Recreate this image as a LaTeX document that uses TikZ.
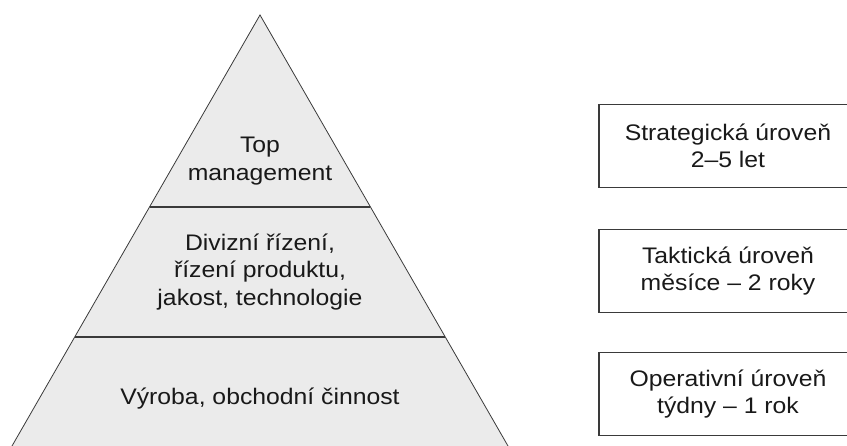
\documentclass[tikz,border=0pt]{standalone}
\usepackage{fontspec}
\setmainfont{Liberation Sans}[FakeStretch=1.1]
\usepackage{xcolor}
\usetikzlibrary{calc,positioning}
\definecolor{pyrfill}{HTML}{EBEBEB}
\definecolor{pyrline}{HTML}{3A3A3A}

\begin{document}
\begin{tikzpicture}[
  x=1pt, y=1pt,
  lvl/.style={align=center, font=\fontsize{22.5}{27.5}\selectfont, text=black!90, inner sep=0pt},
  lvlbox/.style={lvl, draw=pyrline, line width=1.6pt, minimum width=258pt, minimum height=83pt},
  cut/.style={draw=pyrline, line width=1.6pt},
]
\useasboundingbox (0,0) rectangle (847,446);
\clip (0,0) rectangle (847,446);
% === Pyramid ===
\coordinate (apex) at (260,431);
\coordinate (bl) at (12,0);
\coordinate (br) at (508,0);
\filldraw[fill=pyrfill, draw=pyrline, line width=0.8pt] (bl) -- (apex) -- (br);
\draw[cut] ($(apex)!{192/431}!(bl)$) coordinate (c1l) -- ($(apex)!{192/431}!(br)$) coordinate (c1r);
\draw[cut] ($(apex)!{322/431}!(bl)$) coordinate (c2l) -- ($(apex)!{322/431}!(br)$) coordinate (c2r);
\node[lvl] (ptop) at (260,285) {Top\\management};
\node[lvl] (pmid) at (260,174) {Divizní řízení,\\řízení produktu,\\jakost, technologie};
\node[lvl] (pbase) at (260,47) {Výroba, obchodní činnost};
% === Time horizons ===
\node[lvlbox] (strat) at (728,300) {Strategická úroveň\\2–5 let};
\node[lvlbox] (takt) at (728,175) {Taktická úroveň\\měsíce – 2 roky};
\node[lvlbox] (oper) at (728,52) {Operativní úroveň\\týdny – 1 rok};
\end{tikzpicture}
\end{document}
